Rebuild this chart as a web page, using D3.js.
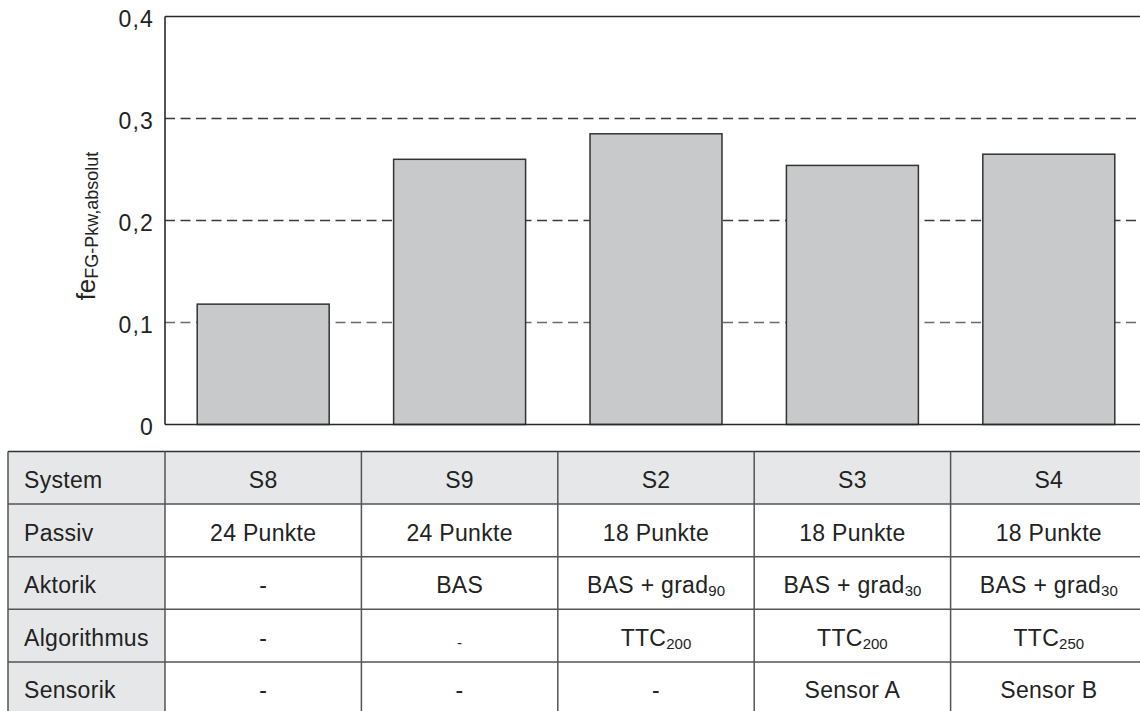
<!DOCTYPE html>
<html><head><meta charset="utf-8">
<script src="https://cdn.jsdelivr.net/npm/d3@7"></script>
<style>
html,body{margin:0;padding:0;background:#fff;}
svg{display:block;font-family:"Liberation Sans",Arial,Helvetica,sans-serif;}
</style></head>
<body>
<svg id="chart" width="1140" height="711"></svg>
<script>
// ---- data ----
const systems = ["S8", "S9", "S2", "S3", "S4"];
const values = [0.118, 0.260, 0.285, 0.254, 0.265];
const yTicks = [0, 0.1, 0.2, 0.3, 0.4];
const yTickLabels = ["0", "0,1", "0,2", "0,3", "0,4"];
const rowLabels = ["System", "Passiv", "Aktorik", "Algorithmus", "Sensorik"];
const passiv = ["24 Punkte", "24 Punkte", "18 Punkte", "18 Punkte", "18 Punkte"];
const aktorikMain = ["-", "BAS", "BAS + grad", "BAS + grad", "BAS + grad"];
const aktorikSub = ["", "", "90", "30", "30"];
const algoMain = ["-", "", "TTC", "TTC", "TTC"];
const algoSub = ["", "-", "200", "200", "250"];
const sensorik = ["-", "-", "-", "Sensor A", "Sensor B"];

const svg = d3.select("#chart");
const pLeft = 165, pRight = 1147, pTop = 16.5, pBottom = 424.5;

const x = d3.scaleBand().domain(systems).range([pLeft, pRight]).paddingInner(0.328).paddingOuter(0.164);
const y = d3.scaleLinear().domain([0, 0.4]).range([pBottom, pTop]);

// grid lines
svg.append("g").selectAll("line").data(yTicks.filter(d => d > 0 && d < 0.4)).join("line")
  .attr("x1", pLeft).attr("x2", 1140)
  .attr("y1", d => y(d)).attr("y2", d => y(d))
  .attr("stroke", d => d < 0.15 ? "#6a6a6a" : "#3a3a3a")
  .attr("stroke-width", 1.3)
  .attr("stroke-dasharray", "10,5.5");

// bars
svg.append("g").selectAll("rect").data(values).join("rect")
  .attr("x", (d, i) => x(systems[i]))
  .attr("width", x.bandwidth())
  .attr("y", d => y(d))
  .attr("height", d => y(0) - y(d))
  .attr("fill", "#c8c9cb")
  .attr("stroke", "#333")
  .attr("stroke-width", 1.5);

// axis frame
const frame = svg.append("g").attr("stroke", "#2a2a2a").attr("stroke-width", 1.6).attr("fill", "none");
frame.append("line").attr("x1", pLeft).attr("x2", pLeft).attr("y1", pTop).attr("y2", pBottom);
frame.append("line").attr("x1", pLeft).attr("x2", 1140).attr("y1", pTop).attr("y2", pTop);
frame.append("line").attr("x1", pLeft).attr("x2", 1140).attr("y1", pBottom).attr("y2", pBottom);

// y axis tick labels via d3 axis
const yAxis = d3.axisLeft(y).tickValues(yTicks).tickSize(0).tickPadding(11)
  .tickFormat((d, i) => yTickLabels[i]);
const ga = svg.append("g").attr("transform", `translate(${pLeft},3)`).call(yAxis);
ga.select(".domain").remove();
ga.selectAll("text").attr("font-size", 23).attr("fill", "#222")
  .attr("letter-spacing", 1.2)
  .attr("font-family", "Liberation Sans, Arial, sans-serif");

// y label
const yl = svg.append("text")
  .attr("transform", "translate(95,226) rotate(-90)")
  .attr("text-anchor", "middle").attr("fill", "#222")
  .attr("font-size", 26);
yl.append("tspan").text("fe");
yl.append("tspan").attr("font-size", 18).attr("dy", 3).text("FG-Pkw,absolut");

// ---- table ----
const tableTop = 451.5, rowH = 52.6, tableLeft = 8;
const step = x.step();
const colEdges = systems.map((s, i) => pLeft + i * step);
const tableRight = 1150;

const tg = svg.append("g");
tg.append("rect").attr("x", tableLeft).attr("y", tableTop)
  .attr("width", tableRight - tableLeft).attr("height", rowH).attr("fill", "#e6e7e8");
tg.append("rect").attr("x", tableLeft).attr("y", tableTop)
  .attr("width", pLeft - tableLeft).attr("height", rowH * 5.2).attr("fill", "#e6e7e8");

const hLines = d3.range(0, 5).map(i => tableTop + i * rowH);
tg.selectAll("line.h").data(hLines).join("line").attr("class", "h")
  .attr("x1", tableLeft).attr("x2", tableRight)
  .attr("y1", d => d).attr("y2", d => d)
  .attr("stroke", (d, i) => i === 0 ? "#333" : "#555").attr("stroke-width", 1.5);
const vLines = [tableLeft, ...colEdges];
tg.selectAll("line.v").data(vLines).join("line").attr("class", "v")
  .attr("x1", d => d).attr("x2", d => d)
  .attr("y1", tableTop).attr("y2", 720)
  .attr("stroke", "#555").attr("stroke-width", 1.5);

const fs = 23, subFs = 15;
const rowBase = i => tableTop + i * rowH + 36.5;

tg.selectAll("text.rl").data(rowLabels).join("text").attr("class", "rl")
  .attr("x", 24).attr("y", (d, i) => rowBase(i))
  .attr("font-size", fs).attr("letter-spacing", 0.3).attr("fill", "#222").text(d => d);

function cellRow(ri, mains, subs) {
  systems.forEach((s, i) => {
    const t = tg.append("text")
      .attr("x", x(s) + x.bandwidth() / 2).attr("y", rowBase(ri))
      .attr("text-anchor", "middle").attr("font-size", fs)
      .attr("letter-spacing", 0.3).attr("fill", "#222");
    if (mains[i]) t.append("tspan").text(mains[i]);
    if (subs && subs[i]) t.append("tspan").attr("font-size", subFs).attr("letter-spacing", 0)
      .attr("dy", mains[i] ? 3 : 2).text(subs[i]);
  });
}
cellRow(0, systems, null);
cellRow(1, passiv, null);
cellRow(2, aktorikMain, aktorikSub);
cellRow(3, algoMain, algoSub);
cellRow(4, sensorik, null);
</script>
</body></html>
